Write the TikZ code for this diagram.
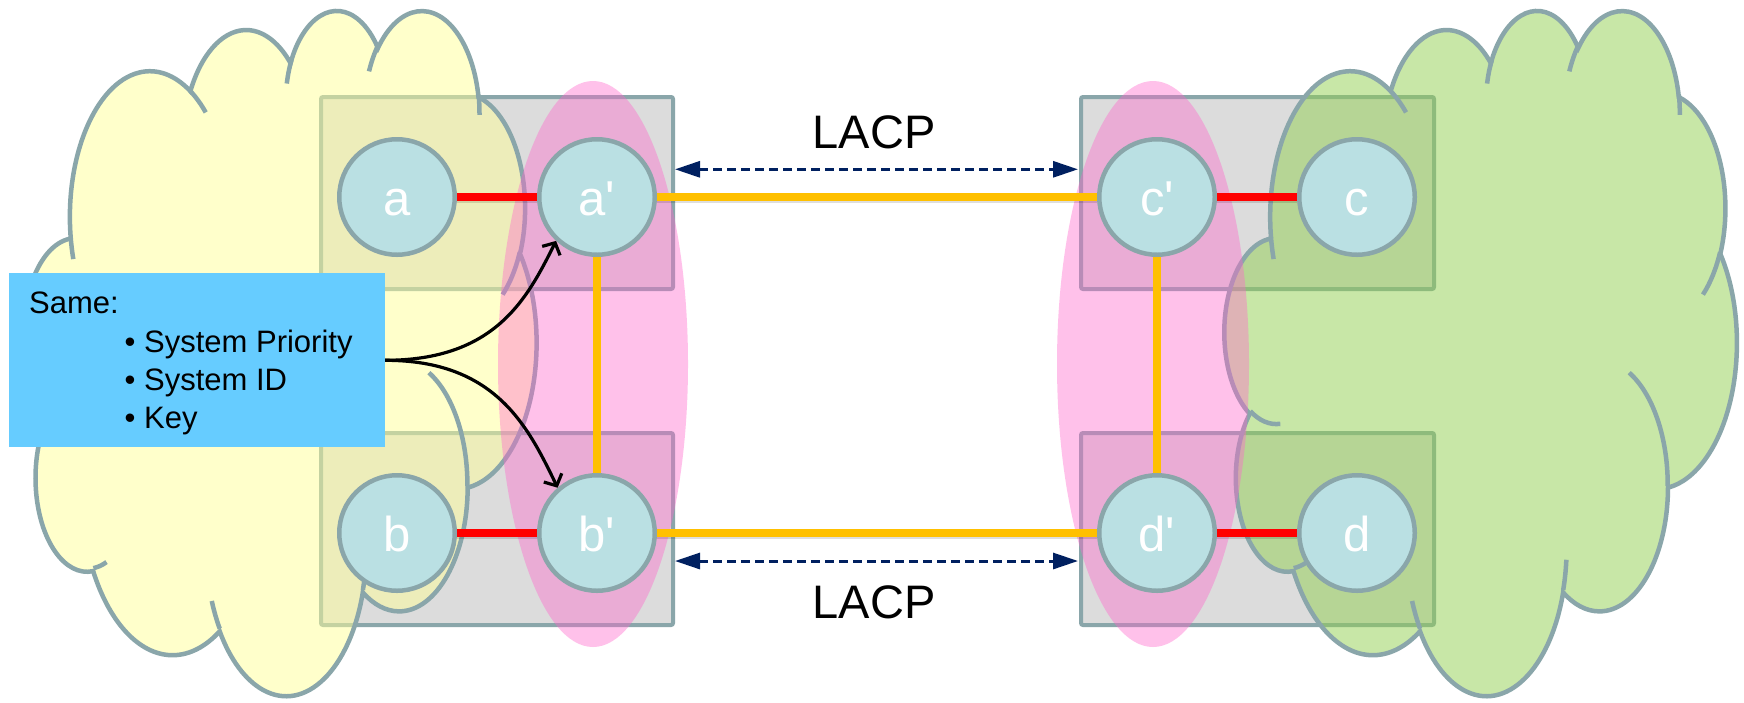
\documentclass[tikz,border=0pt]{standalone}
\usepackage{fontspec}
\newfontfamily\arial{Liberation Sans}
\usetikzlibrary{arrows.meta}
\definecolor{edge}{RGB}{138,166,170}
\definecolor{circfill}{RGB}{186,224,227}
\definecolor{boxgray}{RGB}{220,220,220}
\definecolor{cloudyellow}{HTML}{FFFF99}
\definecolor{cloudgreen}{HTML}{92D050}
\definecolor{pinkc}{HTML}{FF66CC}
\definecolor{linkred}{HTML}{FF0000}
\definecolor{linkyellow}{HTML}{FFC000}
\definecolor{navyc}{HTML}{002060}
\definecolor{infoblue}{HTML}{66CCFF}
\newcommand\cldarc[4]{%
  \pgfmathsetmacro\cldda{atan2((#1)*sin(#3),(#2)*cos(#3))-(#3)}%
  \pgfmathsetmacro\cldta{(#3)+\cldda-360*round(\cldda/360)}%
  \pgfmathsetmacro\clddb{atan2((#1)*sin((#3)+(#4)),(#2)*cos((#3)+(#4)))-((#3)+(#4))}%
  \pgfmathsetmacro\cldtb{(#3)+(#4)+\clddb-360*round(\clddb/360)}%
  \xdef\cldacc{\cldacc arc[start angle=\cldta,end angle=\cldtb,x radius=#1,y radius=#2]}%
}
\newcommand\cldmove[2]{\xdef\cldacc{\cldacc (#1,#2)}}
\begin{document}
\begin{tikzpicture}[x=1pt,y=-1pt,
  swbox/.style={draw=edge,fill=boxgray,line width=4pt,rounded corners=2pt,minimum width=352pt,minimum height=192pt,inner sep=0pt},
  circ/.style={circle,draw=edge,fill=circfill,line width=4.5pt,minimum size=115.5pt,inner sep=0pt,text=white,font=\arial\fontsize{49}{56}\selectfont,text height=36pt,text depth=0pt},
  cloudbody/.style={draw=edge,line width=4.5pt,fill opacity=0.5},
  cloudcr/.style={draw=edge,line width=4.5pt},
  lens/.style={fill=pinkc,opacity=0.4},
  redlink/.style={draw=linkred,line width=8pt},
  yellink/.style={draw=linkyellow,line width=8pt},
  linkshadow/.style={draw=black,opacity=0.13,line width=6pt},
  lacparrow/.style={draw=navyc,line width=3pt,dash pattern=on 8.5pt off 5.5pt,{Triangle[length=25pt,width=16pt]}-{Triangle[length=25pt,width=16pt]}},
  lacptext/.style={font=\arial\fontsize{47}{56}\selectfont,inner sep=0pt,anchor=base},
  infotext/.style={font=\arial\fontsize{31}{37}\selectfont,inner sep=0pt,anchor=base west},
  pointer/.style={draw=black,line width=3.2pt,-{Straight Barb[length=9pt,width=20pt]}}
]
% ---- cloud geometry (preset cloud outline, 4320 units square) ----
\xdef\cldacc{}%
\cldarc{675.3}{919.0}{-190.4875}{123.7805}%
\cldarc{533.3}{726.7}{-144.1024}{89.9452}%
\cldarc{436.5}{594.5}{-145.8079}{99.7230}%
\cldarc{485.7}{659.5}{-130.9861}{117.2417}%
\cldarc{533.3}{727.3}{-78.7089}{109.0269}%
\cldarc{677.5}{922.0}{-46.2673}{130.2690}%
\cldarc{578.5}{786.7}{0.6250}{114.0333}%
\cldarc{675.2}{921.5}{22.4516}{115.1726}%
\cldarc{772.0}{1054.3}{66.2426}{75.7110}%
\cldarc{436.0}{591.8}{-274.9421}{146.7356}%
\cldarc{434.5}{594.5}{-246.8285}{152.5189}%
\global\let\cloudmain\cldacc
\xdef\cldacc{}%
\cldmove{469.3}{2617.7}\cldarc{434.5}{594.5}{86.7420}{26.4295}%
\cldmove{692.8}{3489.9}\cldarc{436.0}{591.8}{73.6105}{11.4475}%
\cldmove{1647.8}{3909.0}\cldarc{675.2}{921.5}{137.6242}{14.0811}%
\cldmove{2882.7}{3475.1}\cldarc{675.2}{921.5}{6.4533}{15.9984}%
\cldmove{3412.9}{2295.4}\cldarc{578.5}{786.7}{-70.2924}{70.9174}%
\cldmove{4179.8}{1535.4}\cldarc{533.3}{727.3}{30.3180}{27.7515}%
\cldmove{3832.4}{542.6}\cldarc{485.7}{659.5}{-13.7443}{14.8589}%
\cldmove{2907.8}{395.2}\cldarc{485.7}{659.5}{-149.1815}{18.1954}%
\cldmove{2214.1}{472.0}\cldarc{436.5}{594.5}{-163.4943}{19.0155}%
\cldmove{1400.0}{519.2}\cldarc{675.3}{919.0}{-66.7070}{12.3194}%
\cldmove{412.7}{1578.9}\cldarc{675.3}{919.0}{157.6544}{11.8582}%
\global\let\cloudcrease\cldacc
% ---- canvas ----
\fill[white] (0,0) rectangle (1744,702);
\useasboundingbox (0,0) rectangle (1744,702);
% ---- switch boxes ----
\node[swbox] (bTL) at (497,193) {};
\node[swbox] (bBL) at (497,529) {};
\node[swbox,minimum width=353pt] (bTR) at (1257.5,193) {};
\node[swbox,minimum width=353pt] (bBR) at (1257.5,529) {};
% ---- clouds ----
\begin{scope}[shift={(24.4,8.7)},x=0.118519pt,y=-0.158565pt]
  \path[cloudbody,fill=cloudyellow] (390,1437) \cloudmain -- cycle;
  \path[cloudcr] \cloudcrease;
\end{scope}
\begin{scope}[shift={(1224.7,8.7)},x=0.118519pt,y=-0.158565pt]
  \path[cloudbody,fill=cloudgreen] (390,1437) \cloudmain -- cycle;
  \path[cloudcr] \cloudcrease;
\end{scope}
% ---- pink lenses ----
\fill[lens] (593,364) ellipse [x radius=95, y radius=283];
\fill[lens] (1153,364) ellipse [x radius=96, y radius=283];
% ---- ports ----
\node[circ] (a)  at (397,197)  {a};
\node[circ] (ap) at (597,197)  {a'};
\node[circ] (b)  at (397,533)  {b};
\node[circ] (bp) at (597,533)  {b'};
\node[circ] (cp) at (1157,197) {c'};
\node[circ] (c)  at (1357,197) {c};
\node[circ] (dp) at (1157,533) {d'};
\node[circ] (d)  at (1357,533) {d};
% ---- links ----
\draw[linkshadow] ([yshift=-3pt]a.east) -- ([yshift=-3pt]ap.west);
\draw[linkshadow] ([yshift=-3pt]b.east) -- ([yshift=-3pt]bp.west);
\draw[linkshadow] ([yshift=-3pt]cp.east) -- ([yshift=-3pt]c.west);
\draw[linkshadow] ([yshift=-3pt]dp.east) -- ([yshift=-3pt]d.west);
\draw[linkshadow] ([yshift=-3pt]ap.east) -- ([yshift=-3pt]cp.west);
\draw[linkshadow] ([yshift=-3pt]bp.east) -- ([yshift=-3pt]dp.west);
\draw[redlink] (a) -- (ap);
\draw[redlink] (b) -- (bp);
\draw[redlink] (cp) -- (c);
\draw[redlink] (dp) -- (d);
\draw[yellink] (ap) -- (cp);
\draw[yellink] (bp) -- (dp);
\draw[yellink] (ap) -- (bp);
\draw[yellink] (cp) -- (dp);
% ---- LACP ----
\coordinate (lt1) at (675,169.3);
\coordinate (lt2) at (1078,169.3);
\coordinate (lb1) at (675,561);
\coordinate (lb2) at (1078,561);
\draw[lacparrow] (lt1) -- (lt2);
\draw[lacparrow] (lb1) -- (lb2);
\node[lacptext] (lacpT) at (874,148.3) {LACP};
\node[lacptext] (lacpB) at (874,618.3) {LACP};
% ---- info box ----
\node[fill=infoblue,minimum width=376pt,minimum height=174pt,inner sep=0pt] (info) at (197,360.3) {};
\node[infotext] (t0) at (29,313.3) {Same:};
\node[infotext] (t1) at (124.5,352.7) {• System Priority};
\node[infotext] (t2) at (124.5,390) {• System ID};
\node[infotext] (t3) at (124.5,428.3) {• Key};
\draw[pointer] (info.east) .. controls +(110,0) and +(-29,58) .. (ap.227);
\draw[pointer] (info.east) .. controls +(110,0) and +(-30,-62) .. (bp.131.5);
\end{tikzpicture}
\end{document}
